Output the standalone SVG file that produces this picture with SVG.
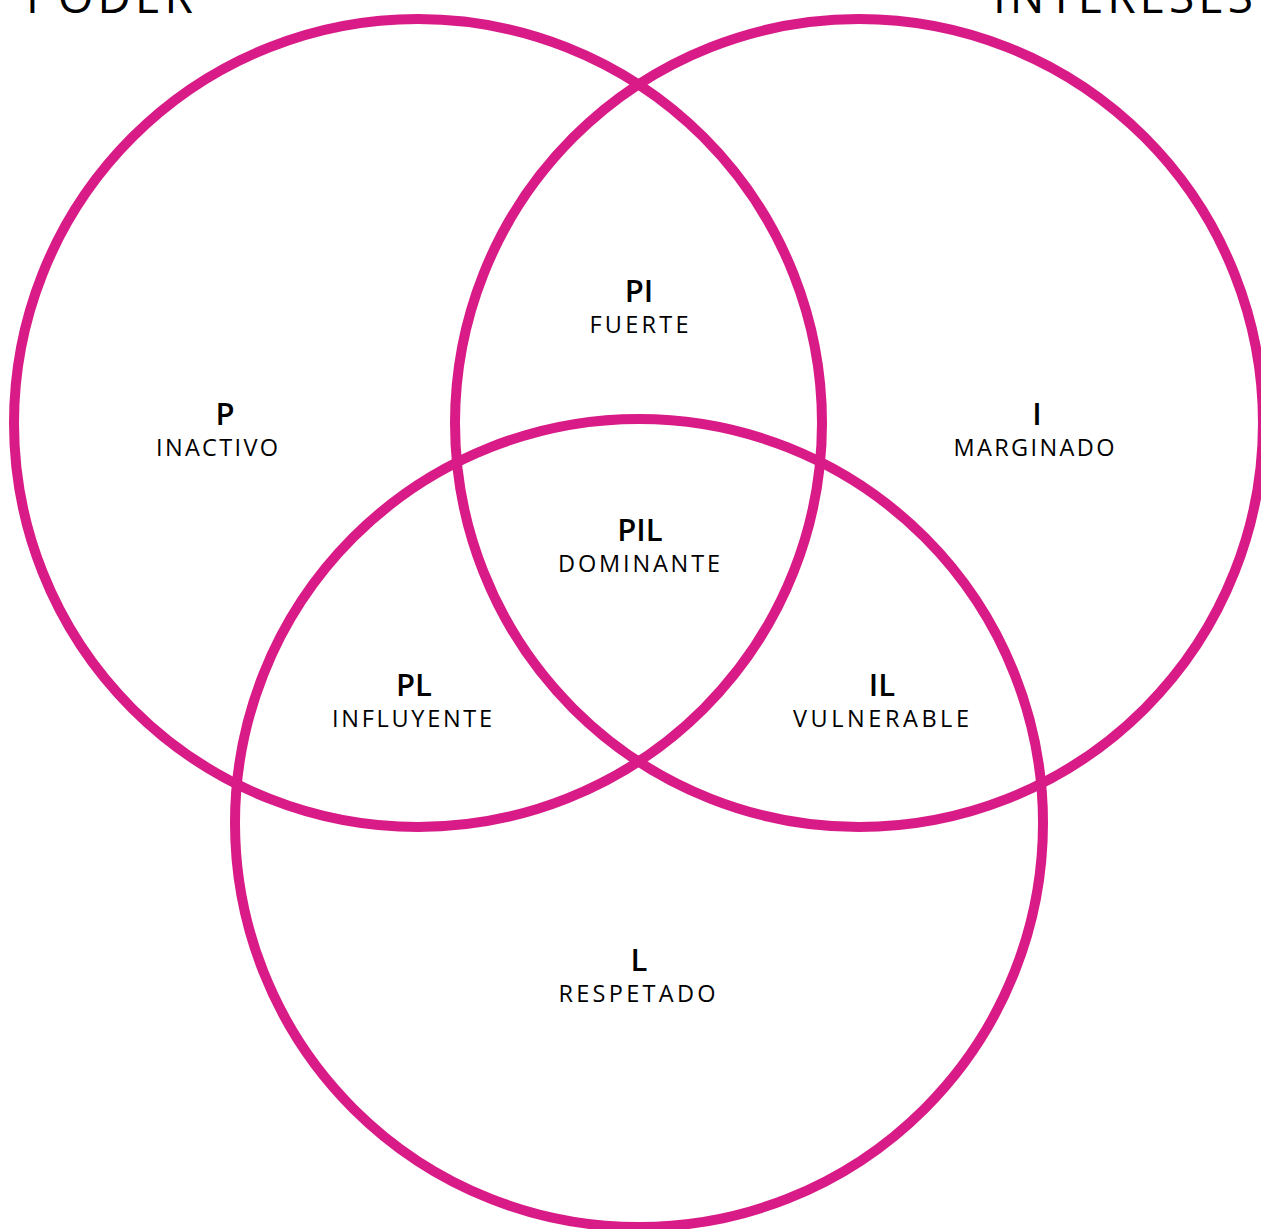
<svg xmlns="http://www.w3.org/2000/svg" width="1261" height="1229" viewBox="0 0 1261 1229">
<style>
.c{fill:none;stroke:#d81b87;stroke-width:10}
text{font-family:"Open Sans","Noto Sans","DejaVu Sans",sans-serif;fill:#000;text-anchor:middle}
.b{font-size:31px;font-weight:600}
.s{font-size:23.5px;font-weight:400}
.t{font-size:46px;font-weight:400;text-anchor:start}
</style>
<rect width="1261" height="1229" fill="#fff"/>
<g id="titles">
<text class="t" x="26" y="13" textLength="167">PODER</text>
<text class="t" x="993" y="13" textLength="260">INTERESES</text>
</g>
<g id="connectors"></g>
<g id="circle-poder"><circle class="c" cx="418" cy="423" r="404"/></g>
<g id="circle-intereses"><circle class="c" cx="859" cy="423" r="404"/></g>
<g id="circle-l"><circle class="c" cx="639" cy="823" r="404"/></g>
<g id="node-p"><text class="b" x="225" y="425">P</text><text class="s" x="217" y="456" textLength="122">INACTIVO</text></g>
<g id="node-i"><text class="b" x="1037" y="425">I</text><text class="s" x="1034" y="456" textLength="161">MARGINADO</text></g>
<g id="node-pi"><text class="b" x="639" y="302">PI</text><text class="s" x="639" y="333" textLength="99">FUERTE</text></g>
<g id="node-pil"><text class="b" x="640" y="541">PIL</text><text class="s" x="639" y="572" textLength="162">DOMINANTE</text></g>
<g id="node-pl"><text class="b" x="414" y="696">PL</text><text class="s" x="412" y="727" textLength="160">INFLUYENTE</text></g>
<g id="node-il"><text class="b" x="882" y="696">IL</text><text class="s" x="881" y="727" textLength="176">VULNERABLE</text></g>
<g id="node-l"><text class="b" x="639" y="971">L</text><text class="s" x="637" y="1002" textLength="157">RESPETADO</text></g>
</svg>
